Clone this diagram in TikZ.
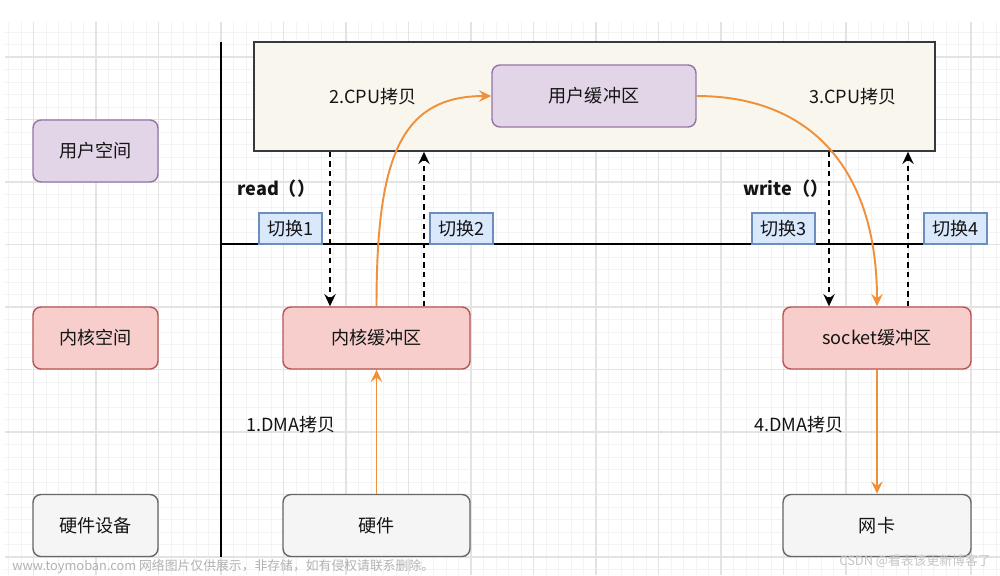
\documentclass[tikz,border=0pt]{standalone}
\usepackage{fontspec}
\setmainfont{Noto Sans CJK SC}
\usetikzlibrary{arrows.meta,calc}
\definecolor{purfill}{HTML}{E1D5E7}\definecolor{purline}{HTML}{9673A6}
\definecolor{redfill}{HTML}{F8CECC}\definecolor{redline}{HTML}{B85450}
\definecolor{grayfill}{HTML}{F5F5F5}\definecolor{grayline}{HTML}{666666}
\definecolor{bluefill}{HTML}{DAE8FC}\definecolor{blueline}{HTML}{6C8EBF}
\definecolor{bigfill}{HTML}{F9F7ED}\definecolor{bigline}{HTML}{36393D}
\definecolor{orng}{HTML}{F0903A}
\definecolor{txt}{HTML}{141414}
\definecolor{gmaj}{HTML}{E3E3E3}\definecolor{gmin}{HTML}{F3F3F3}
\tikzset{
  lbl/.style={font=\fontsize{10.3}{12}\selectfont, text=txt},
  rbox/.style={lbl, draw, line width=0.8pt, rounded corners=4.5pt, minimum height=1.24cm, inner sep=0pt},
  purbox/.style={rbox, fill=purfill, draw=purline},
  redbox/.style={rbox, fill=redfill, draw=redline},
  graybox/.style={rbox, fill=grayfill, draw=grayline},
  swbox/.style={lbl, draw=blueline, fill=bluefill, line width=0.8pt, minimum width=1.26cm, minimum height=0.62cm, inner sep=0pt},
  plain/.style={lbl, inner sep=0pt},
  dasharrow/.style={draw=black, line width=0.9pt, dash pattern=on 3pt off 2.5pt, -{Stealth[length=7pt,width=6.5pt,inset=2.5pt]}},
  orarrow/.style={draw=orng, line width=1.1pt, -{Stealth[length=7pt,width=6.5pt,inset=2.5pt]}},
  axis/.style={draw=black, line width=0.9pt},
  wm/.style={inner sep=0pt, text=gray!60, font=\fontsize{7.3}{9}\selectfont}
}
\begin{document}
\begin{tikzpicture}[x=0.02cm,y=-0.02cm]
\useasboundingbox (0,0) rectangle (1000,575);
\fill[white] (0,0) rectangle (1000,575);
% grid
\begin{scope}
\clip (5,22) rectangle (1000,575);
\foreach \i in {0,...,80} \draw[gmin, line width=0.4pt] ({8.5+12.5*\i},22) -- ++(0,553);
\foreach \j in {0,...,45} \draw[gmin, line width=0.4pt] (5,{19.5+12.5*\j}) -- ++(995,0);
\foreach \i in {0,...,16} \draw[gmaj, line width=0.6pt] ({33.5+62.5*\i},22) -- ++(0,553);
\foreach \j in {0,...,9} \draw[gmaj, line width=0.6pt] (5,{-5.5+62.5*\j}) -- ++(995,0);
\end{scope}
% axes
\coordinate (v1) at (221,42); \coordinate (v2) at (221,557);
\coordinate (h1) at (221,244); \coordinate (h2) at (987,244);
\draw[axis] (v1) -- (v2);
\draw[axis] (h1) -- (h2);
% left labels
\node[purbox, minimum width=2.5cm] (us) at (95.5,151) {用户空间};
\node[redbox, minimum width=2.5cm] (ks) at (95.5,338) {内核空间};
\node[graybox, minimum width=2.5cm] (hd) at (95.5,525.5) {硬件设备};
% user space big box
\node[draw=bigline, fill=bigfill, line width=0.9pt, minimum width=13.62cm, minimum height=2.18cm, inner sep=0pt] (big) at (594.5,96.5) {};
\node[purbox, minimum width=4.08cm] (ub) at (594,96) {用户缓冲区};
\node[plain] (cpu2) at (373,97) {2.CPU拷贝};
\node[plain] (cpu3) at (853,97) {3.CPU拷贝};
% kernel / hardware boxes
\node[redbox, minimum width=3.74cm] (kb) at (376.5,338) {内核缓冲区};
\node[redbox, minimum width=3.76cm] (sb) at (877,338) {socket缓冲区};
\node[graybox, minimum width=3.74cm] (hw) at (376.5,525.5) {硬件};
\node[graybox, minimum width=3.76cm] (nic) at (877,525.5) {网卡};
% switches
\node[swbox] (sw1) at (290.5,228.5) {切换1};
\node[swbox] (sw2) at (461.5,228.5) {切换2};
\node[swbox] (sw3) at (783.5,228.5) {切换3};
\node[swbox] (sw4) at (955.5,228.5) {切换4};
% labels
\node[plain, anchor=west, font=\fontsize{10.3}{12}\selectfont\bfseries] (rd) at (237,189) {read（）};
\node[plain, anchor=west, font=\fontsize{10.3}{12}\selectfont\bfseries] (wr) at (743,189) {write（）};
\node[plain] (dma1) at (291,425) {1.DMA拷贝};
\node[plain] (dma4) at (799,425) {4.DMA拷贝};
% dashed system call arrows
\coordinate (d1) at (330,0); \coordinate (d2) at (424,0);
\coordinate (d3) at (829,0); \coordinate (d4) at (908,0);
\draw[dasharrow] (d1 |- big.south) -- (d1 |- kb.north);
\draw[dasharrow] (d2 |- kb.north) -- (d2 |- big.south);
\draw[dasharrow] (d3 |- big.south) -- (d3 |- sb.north);
\draw[dasharrow] (d4 |- sb.north) -- (d4 |- big.south);
% orange copy arrows
\draw[orarrow] (hw.north) -- (kb.south);
\draw[orarrow] (kb.north) .. controls ($(kb.north)+(0,-147)$) and ($(ub.west)+(-92,0)$) .. (ub.west);
\draw[orarrow] (ub.east) .. controls ($(ub.east)+(114,0)$) and ($(sb.north)+(0,-137)$) .. (sb.north);
\draw[orarrow] (sb.south) -- (nic.north);
% watermarks
\node[wm, anchor=west] (wm1) at (12,567) {www.toymoban.com 网络图片仅供展示，非存储，如有侵权请联系删除。};
\node[wm, anchor=east, text=gray!45] (wm2) at (991,561) {CSDN @看表该更新博客了};
\end{tikzpicture}
\end{document}
